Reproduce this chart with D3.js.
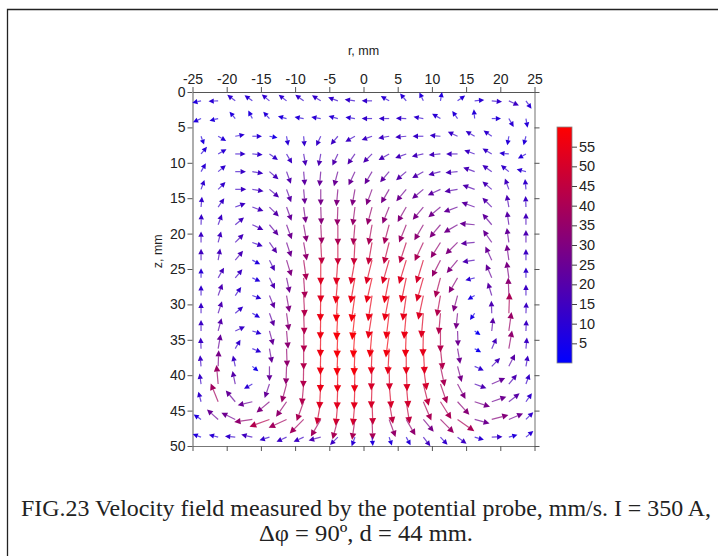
<!DOCTYPE html>
<html><head><meta charset="utf-8">
<script src="https://cdn.jsdelivr.net/npm/d3@7"></script>
<style>html,body{margin:0;padding:0;background:#fff;}svg{display:block;}</style>
</head><body>
<script>
// ---- data ----
const rGrid = [-23.75,-21.25,-18.75,-16.25,-13.75,-11.25,-8.75,-6.25,-3.75,-1.25,1.25,3.75,6.25,8.75,11.25,13.75,16.25,18.75,21.25,23.75];
const zGrid = [1.25,3.75,6.25,8.75,11.25,13.75,16.25,18.75,21.25,23.75,26.25,28.75,31.25,33.75,36.25,38.75,41.25,43.75,46.25,48.75];
const xTicks = [-25,-20,-15,-10,-5,0,5,10,15,20,25];
const zTicks = [0,5,10,15,20,25,30,35,40,45,50];
const cbTicks = [5,10,15,20,25,30,35,40,45,50,55];
// direction on screen (deg, 0 = +r, 90 = +z / downward), one row per z
const angleRows = [
 [168,178,217,216,220,218,216,212,200,188,180,210,230,245,280,325,355,5,25,55],
 [155,166,230,243,228,195,190,190,195,188,180,180,182,190,210,235,265,0,60,80],
 [70,30,350,0,10,80,85,115,130,150,160,170,175,180,185,205,210,215,100,105],
 [310,330,0,5,35,60,80,100,115,125,135,150,160,168,175,180,200,210,185,150],
 [300,320,0,10,40,70,85,95,105,115,120,130,140,150,165,175,200,215,220,195],
 [290,315,0,10,40,70,85,90,95,100,110,120,130,140,155,170,200,220,250,265],
 [275,305,340,20,45,70,82,88,92,97,105,112,120,130,140,160,200,225,260,268],
 [272,290,320,25,50,70,80,87,90,95,100,105,112,120,130,150,185,230,262,270],
 [270,285,315,20,55,72,80,87,90,93,100,104,108,115,122,135,175,235,262,270],
 [270,280,310,28,64,73,82,90,94,100,104,106,107,107,117,130,172,245,262,270],
 [270,300,310,25,64,78,86,90,95,100,103,101,102,106,105,120,165,247,262,270],
 [270,290,305,20,68,80,87,91,94,98,99,101,98,102,100,105,150,253,268,270],
 [270,288,320,30,70,82,88,91,93,96,99,97,95,95,95,96,125,268,272,272],
 [270,285,335,18,75,85,89,91,92,94,95,97,92,91,90,88,35,276,278,272],
 [268,280,300,22,80,88,90,91,92,92,92,93,90,87,84,80,30,294,280,275],
 [265,272,258,40,90,92,91,91,91,91,92,89,88,82,78,75,24,315,297,280],
 [262,265,258,150,109,105,95,93,92,92,92,85,85,76,71,62,20,336,310,290],
 [255,248,230,167,140,125,110,100,95,95,88,80,81,67,58,48,18,341,322,305],
 [214,222,206,172,160,155,135,120,105,98,88,70,60,50,45,35,15,345,337,315],
 [200,195,185,193,163,155,155,165,135,110,85,72,62,52,47,36,16,358,345,320]
];
// speed, mm/s
const speedRows = [
 [8,10,11,10,11,11,12,12,12,12,12,10,10,9,8,9,10,12,14,10],
 [8,8,8,8,9,8,9,10,10,10,12,12,12,11,10,9,9,9,10,9],
 [8,9,10,10,6,10,12,13,14,14,14,14,14,13,13,13,12,11,9,9],
 [9,10,12,12,12,14,17,18,19,19,18,17,16,16,16,15,14,13,10,9],
 [10,11,13,14,16,19,22,24,25,25,24,22,20,19,18,17,17,15,12,10],
 [11,12,14,15,18,21,25,28,30,30,30,28,26,24,22,20,19,17,15,12],
 [12,13,14,16,20,24,28,32,35,35,35,33,31,29,27,24,22,20,18,14],
 [13,14,15,17,22,26,32,37,40,40,40,39,36,33,30,27,25,23,21,16],
 [14,15,16,14,20,26,34,44,46,46,46,45,44,40,34,30,22,25,24,18],
 [15,16,17,8,17,30,40,52,52,52,52,52,52,50,35,30,18,25,27,14],
 [10,16,14,8,18,26,40,52,55,55,55,55,54,52,40,32,10,24,29,12],
 [12,18,12,10,22,30,42,55,57,57,55,55,54,52,42,30,6,21,33,14],
 [13,18,12,8,22,32,42,56,58,58,55,56,55,52,42,28,6,18,40,14],
 [14,20,13,10,24,33,42,56,58,58,57,57,56,54,42,26,3,21,36,14],
 [14,24,12,10,24,34,42,56,58,58,55,55,55,54,42,26,4,16,34,14],
 [14,28,14,5,24,34,42,55,56,56,50,50,52,50,40,28,11,16,21,14],
 [13,36,20,10,24,36,42,53,54,54,51,51,50,45,40,30,18,24,18,13],
 [12,38,24,25,30,34,40,48,50,50,48,45,45,40,40,32,28,26,21,12],
 [8,25,26,34,42,38,38,38,40,40,40,35,34,28,36,40,26,31,26,12],
 [8,10,12,15,12,14,14,18,14,10,8,8,9,15,12,14,10,13,8,10]
];

// ---- drawing ----
const W = 718, H = 556;
const svg = d3.select("body").append("svg").attr("width", W).attr("height", H);
svg.append("rect").attr("width", W).attr("height", H).attr("fill", "#fff");
// frame
svg.append("path").attr("d", "M7.5,556V9.5H718").attr("fill", "none").attr("stroke", "#222").attr("stroke-width", 1.3);

const x = d3.scaleLinear().domain([-25, 25]).range([192.5, 534.5]);
const y = d3.scaleLinear().domain([0, 50]).range([92, 446]);
const vmax = 60;
const color = d3.scaleLinear().domain([0, vmax]).range(["#0000ff", "#ff0000"]).interpolate(d3.interpolateRgb);
const lenScale = d3.scaleLinear().domain([0, 58]).range([6, 27]);
const fmt = d => String(d);

const axisFont = "Liberation Sans, Arial, sans-serif";
const axG = svg.append("g").attr("font-family", axisFont);

function styleAxis(g, showLabels, domainColor) {
  g.select(".domain").attr("stroke", domainColor).attr("stroke-width", 1.2);
  g.selectAll(".tick line").attr("stroke", "#555").attr("stroke-width", 1);
  g.selectAll(".tick text").attr("fill", "#222").attr("font-size", 14).attr("font-family", axisFont);
  if (!showLabels) g.selectAll(".tick text").remove();
}
axG.append("g").attr("transform", "translate(0,92)")
  .call(d3.axisTop(x).tickValues(xTicks).tickSize(5).tickSizeOuter(0).tickPadding(3).tickFormat(fmt))
  .call(g => styleAxis(g, true, "#555"));
axG.append("g").attr("transform", "translate(0,446)")
  .call(d3.axisBottom(x).tickValues(xTicks).tickSize(5).tickSizeOuter(0))
  .call(g => styleAxis(g, false, "#777"));
axG.append("g").attr("transform", "translate(192.5,0)")
  .call(d3.axisLeft(y).tickValues(zTicks).tickSize(5).tickSizeOuter(0).tickPadding(2).tickFormat(fmt))
  .call(g => styleAxis(g, true, "#777"));
axG.append("g").attr("transform", "translate(534.5,0)")
  .call(d3.axisRight(y).tickValues(zTicks).tickSize(5).tickSizeOuter(0))
  .call(g => styleAxis(g, false, "#888"));

svg.append("text").attr("x", x(0)).attr("y", 55).attr("text-anchor", "middle")
  .attr("font-family", axisFont).attr("font-size", 12.5).attr("fill", "#222").text("r, mm");
svg.append("text").attr("transform", `translate(162,${y(22.5)}) rotate(-90)`).attr("text-anchor", "middle")
  .attr("font-family", axisFont).attr("font-size", 12.5).attr("fill", "#222").text("z, mm");

// vectors
const vecs = [];
zGrid.forEach((z, k) => rGrid.forEach((r, c) => {
  vecs.push({ r, z, a: angleRows[k][c], s: speedRows[k][c] });
}));
const vg = svg.append("g");
vecs.forEach(v => {
  const x0 = x(v.r), y0 = y(v.z);
  const L = lenScale(v.s);
  const head = 4.8 + v.s * 0.045, hw = head * 0.5;
  const t = v.a * Math.PI / 180;
  const ux = Math.cos(t), uy = Math.sin(t);
  const x1 = x0 + ux * L, y1 = y0 + uy * L;
  const bx = x1 - ux * head, by = y1 - uy * head;
  const col = color(v.s);
  vg.append("line").attr("x1", x0).attr("y1", y0).attr("x2", bx).attr("y2", by)
    .attr("stroke", col).attr("stroke-width", 1.2).attr("stroke-opacity", 0.7);
  vg.append("path")
    .attr("d", `M${x1},${y1}L${bx - uy * hw},${by + ux * hw}L${bx + uy * hw},${by - ux * hw}Z`)
    .attr("fill", col);
});

// colorbar
const cbX = 557, cbW = 15;
const cy = d3.scaleLinear().domain([0, vmax]).range([363, 127]);
const defs = svg.append("defs");
const grad = defs.append("linearGradient").attr("id", "cbgrad").attr("x1", 0).attr("y1", 1).attr("x2", 0).attr("y2", 0);
d3.range(0, 11).forEach(i => {
  grad.append("stop").attr("offset", i / 10).attr("stop-color", color(vmax * i / 10));
});
svg.append("rect").attr("x", cbX).attr("y", cy(vmax)).attr("width", cbW).attr("height", cy(0) - cy(vmax))
  .attr("fill", "url(#cbgrad)").attr("stroke", "#888").attr("stroke-width", 0.8);
const cbAxis = svg.append("g").attr("transform", `translate(${cbX + cbW},0)`)
  .call(d3.axisRight(cy).tickValues(cbTicks).tickSize(5).tickPadding(2).tickFormat(fmt));
cbAxis.select(".domain").remove();
cbAxis.selectAll(".tick line").attr("stroke", "#444");
cbAxis.selectAll(".tick text").attr("fill", "#222").attr("font-size", 14.5).attr("font-family", axisFont);

// caption
const capFont = "Liberation Serif, Times New Roman, serif";
svg.append("text").attr("x", 366).attr("y", 516).attr("text-anchor", "middle")
  .attr("font-family", capFont).attr("font-size", 22.5).attr("fill", "#222")
  .attr("textLength", 690).attr("lengthAdjust", "spacingAndGlyphs")
  .text("FIG.23 Velocity field measured by the potential probe, mm/s. I = 350 A,");
svg.append("text").attr("x", 366).attr("y", 541).attr("text-anchor", "middle")
  .attr("font-family", capFont).attr("font-size", 22.5).attr("fill", "#222")
  .attr("textLength", 214).attr("lengthAdjust", "spacingAndGlyphs")
  .text("Δφ = 90º, d = 44 mm.");
</script>
</body></html>
